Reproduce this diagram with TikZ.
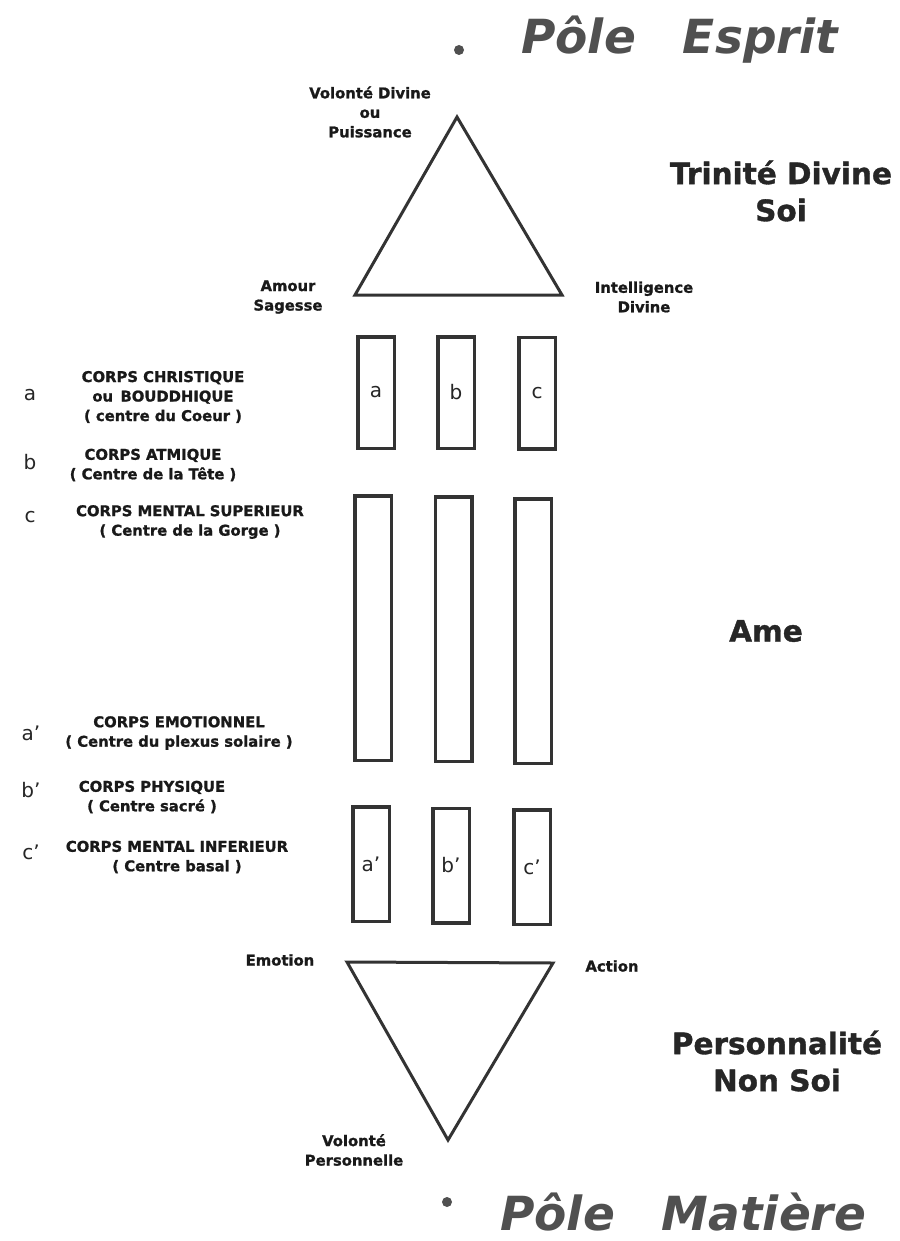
\documentclass[tikz,border=0pt]{standalone}
\usepackage{fontspec}
\setmainfont{DejaVu Sans}[BoldFeatures={FakeBold=1.2}]
\usetikzlibrary{positioning}

\definecolor{trait}{HTML}{333333}
\definecolor{gris}{HTML}{505050}

\tikzset{
  petit/.style={font=\bfseries\fontsize{14.8}{19.5}\selectfont, align=center, text=black!90},
  grand/.style={font=\bfseries\fontsize{29.5}{37}\selectfont, align=center, text=black!85},
  pole/.style={font=\bfseries\itshape\fontsize{47}{55}\selectfont, text=gris, inner sep=0pt},
  lettre/.style={font=\fontsize{20}{22}\selectfont, text=black!85},
  corps/.style={draw=trait, line width=3.5pt, inner sep=0pt, minimum width=36.5pt},
  tri/.style={draw=trait, line width=3pt, line join=miter},
  point/.style={circle, fill=gris, inner sep=0pt, minimum size=10pt},
}

\begin{document}
\begin{tikzpicture}[x=1pt,y=-1pt]
		\useasboundingbox (0,0) rectangle (899,1241);
		%Pole Esprit
		\node[point] (esprit) at (459,50) {};
		\node[pole, anchor=base west] (poleE) at (521,54) {Pôle\hspace{47pt}Esprit};
		%Trinite
		\coordinate (volonte) at (457,117);
		\coordinate (amour) at (355,295);
		\coordinate (intel) at (562,295);
		\draw[tri] (volonte) -- (amour) -- (intel) -- cycle;
		\node[petit] (tvol) at (370,112) {Volonté Divine\\ou\\Puissance};
		\node[petit] (tamour) at (288,297) {Amour\\Sagesse};
		\node[petit] (tintel) at (644,297) {Intelligence\\Divine};
		\node[grand] (trinite) at (781,191) {Trinité Divine\\Soi};
		%Corps superieurs
		\node[corps, minimum height=111.5pt, lettre] (a) at (376,392.5) {a};
		\node[corps, minimum height=111.5pt, lettre] (b) at (456,392.5) {b};
		\node[corps, minimum height=111.5pt, lettre] (c) at (537,393) {c};
		%Ame
		\node[corps, minimum height=264.5pt] (ma) at (373,628) {};
		\node[corps, minimum height=264.5pt] (mb) at (453.5,629) {};
		\node[corps, minimum height=264.5pt] (mc) at (533,631) {};
		\node[grand] (ame) at (766,631) {Ame};
		%Corps inferieurs
		\node[corps, minimum height=114.5pt, lettre] (a2) at (371,864) {a'};
		\node[corps, minimum height=114.5pt, lettre] (b2) at (451,865.5) {b'};
		\node[corps, minimum height=114.5pt, lettre] (c2) at (532,867) {c'};
		%Legende
		\node[lettre] (la) at (30,395) {a};
		\node[lettre] (lb) at (30,462) {b};
		\node[lettre] (lc) at (30,517) {c};
		\node[lettre] (la2) at (31,733) {a'};
		\node[lettre] (lb2) at (31,790) {b'};
		\node[lettre] (lc2) at (31,852) {c'};
		\node[petit] (ta) at (163,397) {CORPS CHRISTIQUE\\ou\enspace BOUDDHIQUE\\( centre du Coeur )};
		\node[petit] (tb) at (153,465) {CORPS ATMIQUE\\( Centre de la Tête )};
		\node[petit] (tc) at (190,522) {CORPS MENTAL SUPERIEUR\\( Centre de la Gorge )};
		\node[petit] (ta2) at (179,733) {CORPS EMOTIONNEL\\( Centre du plexus solaire )};
		\node[petit] (tb2) at (152,797) {CORPS PHYSIQUE\\( Centre sacré )};
		\node[petit] (tc2) at (177,857) {CORPS MENTAL INFERIEUR\\( Centre basal )};
		%Personnalite
		\coordinate (emotion) at (347,962);
		\coordinate (action) at (553,963);
		\coordinate (volperso) at (448,1140);
		\draw[tri] (emotion) -- (action) -- (volperso) -- cycle;
		\node[petit] (temo) at (280,960) {Emotion};
		\node[petit] (tact) at (612,966) {Action};
		\node[petit] (tvolp) at (354,1150) {Volonté\\Personnelle};
		\node[grand] (perso) at (777,1061) {Personnalité\\Non Soi};
		%Pole Matiere
		\node[point] (matiere) at (447,1202) {};
		\node[pole, anchor=base west] (poleM) at (500,1230) {Pôle\hspace{47pt}Matière};
\end{tikzpicture}
\end{document}
